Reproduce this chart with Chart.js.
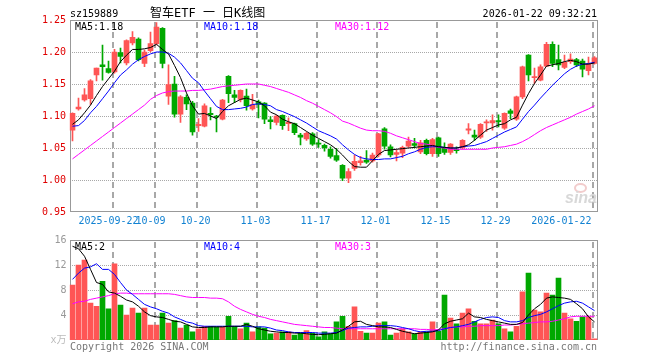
<!DOCTYPE html>
<html>
<head>
<meta charset="utf-8">
<script src="https://cdn.jsdelivr.net/npm/chart.js@4"></script>
<style>
  body { margin: 0; background: #fff; }
  #wrap { position: relative; width: 660px; height: 360px; overflow: hidden; background: #fff; }
  canvas { position: absolute; left: 0; }
  .t { position: absolute; font: 10px/10px "DejaVu Sans Mono", "Noto Sans CJK SC", monospace; white-space: pre; color: #000; }
  #title { position: absolute; left: 150px; top: 7px; font: 12px/12px "DejaVu Sans Mono", "Noto Sans CJK SC", monospace; white-space: pre; }
  #sina { position: absolute; left: 565px; top: 190px; font: italic bold 16px/16px "Liberation Sans", sans-serif; color: #d8d8d8; }
  #eye { position: absolute; left: 574px; top: 183px; width: 9px; height: 6px; border: 2px solid #f2cccc; border-radius: 50%; }
</style>
</head>
<body>
<div id="wrap">
  <canvas id="kChart" width="660" height="232" style="top:0;width:660px;height:232px"></canvas>
  <canvas id="volChart" width="660" height="128" style="top:232px;width:660px;height:128px"></canvas>

  <div class="t" style="left:70px;top:8.5px">sz159889</div>
  <div id="title">智车ETF 一 日K线图</div>
  <div class="t" style="right:63px;top:8.5px">2026-01-22 09:32:21</div>

  <div class="t" style="left:75px;top:21.5px">MA5:1.18</div>
  <div class="t" style="left:204px;top:21.5px;color:#0000ff">MA10:1.18</div>
  <div class="t" style="left:335px;top:21.5px;color:#ff00ff">MA30:1.12</div>

  <div class="t" style="left:75px;top:241.5px">MA5:2</div>
  <div class="t" style="left:204px;top:241.5px;color:#0000ff">MA10:4</div>
  <div class="t" style="left:335px;top:241.5px;color:#ff00ff">MA30:3</div>

  <div id="eye"></div>
  <div id="sina">sina</div>

  <div class="t" style="left:70px;top:341.5px;color:#777">Copyright 2026 SINA.COM</div>
  <div class="t" style="right:63px;top:341.5px;color:#777">http://finance.sina.com.cn</div>
</div>

<script>
// data ------------------------------------------------------------------
const dates = [
  '2025-09-11','2025-09-12','2025-09-15','2025-09-16','2025-09-17','2025-09-18','2025-09-19','2025-09-22','2025-09-23','2025-09-24','2025-09-25','2025-09-26','2025-09-29','2025-09-30',
  '2025-10-09','2025-10-10','2025-10-13','2025-10-14','2025-10-15','2025-10-16','2025-10-17','2025-10-20','2025-10-21','2025-10-22','2025-10-23','2025-10-24','2025-10-27','2025-10-28','2025-10-29','2025-10-30','2025-10-31',
  '2025-11-03','2025-11-04','2025-11-05','2025-11-06','2025-11-07','2025-11-10','2025-11-11','2025-11-12','2025-11-13','2025-11-14','2025-11-17','2025-11-18','2025-11-19','2025-11-20','2025-11-21','2025-11-24','2025-11-25','2025-11-26','2025-11-27','2025-11-28',
  '2025-12-01','2025-12-02','2025-12-03','2025-12-04','2025-12-05','2025-12-08','2025-12-09','2025-12-10','2025-12-11','2025-12-12','2025-12-15','2025-12-16','2025-12-17','2025-12-18','2025-12-19','2025-12-22','2025-12-23','2025-12-24','2025-12-25','2025-12-26','2025-12-29','2025-12-30','2025-12-31',
  '2026-01-05','2026-01-06','2026-01-07','2026-01-08','2026-01-09','2026-01-12','2026-01-13','2026-01-14','2026-01-15','2026-01-16','2026-01-19','2026-01-20','2026-01-21','2026-01-22'
];

const open = [
  1.078,1.111,1.125,1.127,1.164,1.180,1.174,1.169,1.199,1.183,
  1.214,1.220,1.182,1.202,1.213,1.237,1.131,1.150,1.103,1.129,
  1.120,1.085,1.084,1.104,1.100,1.095,1.162,1.133,1.126,1.131,
  1.111,1.122,1.120,1.094,1.090,1.101,1.088,1.088,1.070,1.064,
  1.072,1.057,1.054,1.048,1.038,1.023,1.003,1.018,1.027,1.031,
  1.030,1.039,1.080,1.052,1.040,1.042,1.053,1.057,1.044,1.062,
  1.041,1.066,1.050,1.043,1.048,1.050,1.078,1.070,1.067,1.089,
  1.089,1.093,1.081,1.108,1.095,1.130,1.195,1.160,1.156,1.178,
  1.212,1.188,1.176,1.185,1.188,1.186,1.171,1.182
];
const high = [
  1.105,1.128,1.143,1.157,1.175,1.211,1.186,1.204,1.206,1.219,
  1.232,1.222,1.203,1.231,1.246,1.238,1.180,1.162,1.132,1.133,
  1.123,1.096,1.119,1.113,1.101,1.126,1.163,1.140,1.141,1.142,
  1.134,1.125,1.121,1.099,1.101,1.102,1.097,1.089,1.073,1.075,
  1.074,1.063,1.056,1.052,1.049,1.024,1.018,1.039,1.037,1.046,
  1.042,1.073,1.082,1.055,1.047,1.053,1.067,1.065,1.062,1.064,
  1.065,1.067,1.058,1.057,1.052,1.063,1.088,1.078,1.088,1.094,
  1.102,1.102,1.105,1.111,1.131,1.178,1.196,1.175,1.180,1.215,
  1.216,1.211,1.195,1.197,1.190,1.189,1.192,1.193
];
const low = [
  1.061,1.109,1.123,1.118,1.155,1.156,1.167,1.167,1.183,1.180,
  1.211,1.186,1.177,1.200,1.211,1.175,1.118,1.098,1.090,1.110,
  1.070,1.076,1.083,1.094,1.075,1.094,1.121,1.121,1.122,1.109,
  1.109,1.097,1.088,1.080,1.086,1.079,1.077,1.071,1.055,1.062,
  1.054,1.051,1.045,1.034,1.029,0.999,0.996,1.015,1.023,1.026,
  1.028,1.036,1.048,1.036,1.030,1.035,1.051,1.050,1.041,1.039,
  1.037,1.037,1.040,1.040,1.042,1.048,1.072,1.062,1.065,1.076,
  1.078,1.083,1.079,1.096,1.093,1.127,1.155,1.151,1.155,1.177,
  1.177,1.172,1.174,1.182,1.177,1.161,1.164,1.181
];
const close = [
  1.104,1.114,1.133,1.155,1.175,1.177,1.168,1.200,1.193,1.218,
  1.223,1.188,1.200,1.213,1.239,1.182,1.149,1.103,1.130,1.119,
  1.075,1.087,1.116,1.102,1.098,1.125,1.135,1.129,1.140,1.116,
  1.118,1.118,1.095,1.091,1.100,1.085,1.090,1.074,1.067,1.073,
  1.056,1.056,1.050,1.037,1.031,1.003,1.013,1.029,1.030,1.028,
  1.039,1.072,1.053,1.039,1.043,1.051,1.061,1.054,1.058,1.041,
  1.063,1.041,1.043,1.056,1.046,1.062,1.080,1.067,1.087,1.091,
  1.093,1.091,1.104,1.104,1.130,1.177,1.164,1.161,1.177,1.212,
  1.182,1.180,1.184,1.189,1.180,1.173,1.181,1.191
];

// price moving averages
const ma5 = [
  1.087,1.094,1.105,1.117,1.132,1.146,1.158,1.170,1.185,1.195,
  1.204,1.204,1.205,1.207,1.212,1.204,1.197,1.179,1.160,1.136,
  1.116,1.103,1.104,1.100,1.096,1.107,1.116,1.121,1.126,1.128,
  1.125,1.122,1.116,1.106,1.102,1.095,1.091,1.088,1.082,1.076,
  1.070,1.065,1.060,1.055,1.048,1.039,1.029,1.021,1.020,1.020,
  1.030,1.040,1.046,1.047,1.048,1.049,1.050,1.051,1.052,1.053,
  1.054,1.052,1.051,1.050,1.050,1.052,1.055,1.062,1.070,1.078,
  1.082,1.086,1.088,1.094,1.098,1.117,1.135,1.151,1.164,1.178,
  1.180,1.182,1.185,1.187,1.185,1.181,1.181,1.183
];
const ma10 = [
  1.084,1.085,1.093,1.105,1.115,1.127,1.139,1.152,1.164,1.172,
  1.181,1.188,1.193,1.197,1.200,1.200,1.198,1.192,1.183,1.171,
  1.159,1.152,1.139,1.127,1.115,1.110,1.110,1.111,1.112,1.114,
  1.118,1.119,1.118,1.116,1.110,1.107,1.103,1.099,1.094,1.089,
  1.083,1.077,1.073,1.069,1.064,1.055,1.047,1.040,1.035,1.033,
  1.032,1.032,1.033,1.033,1.035,1.037,1.041,1.044,1.048,1.051,
  1.052,1.052,1.051,1.050,1.050,1.052,1.053,1.054,1.057,1.060,
  1.065,1.070,1.075,1.079,1.083,1.095,1.107,1.117,1.128,1.138,
  1.148,1.157,1.166,1.173,1.178,1.181,1.182,1.184
];
const ma30 = [
  1.033,1.040,1.047,1.054,1.061,1.068,1.075,1.082,1.089,1.096,
  1.103,1.110,1.117,1.126,1.132,1.136,1.138,1.139,1.139,1.139,
  1.140,1.140,1.141,1.142,1.144,1.146,1.147,1.148,1.149,1.150,
  1.150,1.150,1.148,1.146,1.143,1.140,1.137,1.133,1.129,1.124,
  1.120,1.115,1.110,1.105,1.099,1.092,1.089,1.085,1.081,1.078,
  1.077,1.077,1.076,1.073,1.069,1.066,1.063,1.060,1.057,1.056,
  1.054,1.051,1.050,1.048,1.048,1.048,1.048,1.048,1.048,1.048,
  1.050,1.051,1.052,1.054,1.056,1.060,1.065,1.071,1.077,1.082,
  1.086,1.090,1.094,1.098,1.103,1.107,1.111,1.116
];

// volume (万) and its moving averages
const vol = [
  8.8,12.0,12.8,5.9,5.4,9.4,5.0,12.2,5.6,4.0,
  5.1,4.3,5.1,2.4,2.4,4.3,2.7,3.1,1.9,2.4,
  1.3,1.8,2.2,2.2,2.1,2.1,3.8,2.2,1.8,2.7,
  1.3,2.1,1.9,1.0,1.1,1.3,1.3,0.8,1.1,1.5,
  1.1,0.5,1.3,1.0,2.9,3.8,2.2,5.3,1.4,1.1,
  1.1,2.7,2.9,0.8,1.1,1.8,1.3,1.0,1.3,1.3,
  2.9,1.4,7.2,3.5,2.6,4.3,5.0,3.0,2.6,2.6,
  3.2,2.6,1.8,1.3,2.2,7.7,10.7,4.8,4.5,7.5,
  7.2,9.9,4.3,3.4,3.0,3.7,3.7,0.2
];
const vma5 = [
  15.0,14.6,13.4,11.3,9.2,8.9,7.7,7.5,7.0,6.4,
  6.1,5.4,4.5,3.9,3.7,3.6,3.3,3.0,2.9,2.5,
  2.1,2.0,2.0,2.1,2.1,2.1,2.2,2.2,2.2,2.5,
  2.2,1.8,1.6,1.4,1.3,1.2,1.2,1.1,1.1,1.0,
  0.9,0.85,0.9,1.0,1.1,1.6,2.2,2.9,3.0,2.5,
  2.3,2.1,2.1,2.0,1.7,1.4,1.2,1.0,1.1,1.2,
  1.3,1.6,2.6,3.0,3.2,3.4,4.3,3.7,3.6,3.3,
  3.1,2.9,2.7,2.5,2.5,2.8,4.0,5.0,5.7,6.7,
  6.9,6.8,6.7,6.5,5.8,5.0,3.7,2.9
];
const vma10 = [
  9.7,10.7,11.5,11.7,12.2,11.3,11.3,10.5,9.2,8.0,
  7.3,6.5,5.7,5.3,5.0,4.6,4.3,3.7,3.3,2.9,
  2.7,2.3,2.2,2.2,2.2,2.2,2.2,2.2,2.2,2.2,
  2.1,2.1,2.1,1.9,1.6,1.5,1.3,1.2,1.2,1.2,
  1.2,1.1,1.1,1.1,1.2,1.5,1.9,2.0,2.1,2.1,
  2.2,2.3,2.3,2.3,2.2,2.0,1.8,1.5,1.3,1.4,
  1.4,1.5,1.8,2.0,2.1,2.3,2.5,2.9,3.3,3.6,
  3.7,3.6,3.1,2.9,2.9,3.1,3.6,3.9,4.1,4.5,
  5.0,5.5,5.9,6.1,6.2,5.9,5.3,4.7
];
const vma30 = [
  5.8,6.1,6.2,6.5,6.7,6.9,7.1,7.4,7.5,7.5,
  7.4,7.4,7.4,7.4,7.4,7.4,7.4,7.3,7.1,6.9,
  6.8,6.8,6.8,6.7,6.7,6.6,6.1,5.4,4.9,4.5,
  4.1,3.8,3.6,3.3,3.1,2.9,2.7,2.5,2.4,2.3,
  2.2,2.1,2.0,2.0,1.9,1.8,1.8,1.8,1.8,1.8,
  1.8,1.8,1.8,1.8,1.8,1.8,1.8,1.8,1.7,1.7,
  1.6,1.7,1.8,2.0,2.1,2.1,2.2,2.2,2.3,2.3,
  2.3,2.3,2.4,2.4,2.5,2.6,2.7,2.8,2.9,2.9,
  3.0,3.2,3.4,3.7,3.8,3.8,3.8,3.8
];

// x-axis date marks (trailing spaces nudge the first and last labels left like the original)
const tickDates = ['2025-09-22','2025-10-09','2025-10-20','2025-11-03','2025-11-17','2025-12-01','2025-12-15','2025-12-29','2026-01-22'];
const tickText  = ['2025-09-22 ','10-09 ','10-20','11-03','11-17','12-01','12-15','12-29','2026-01-22          '];

// ---------------------------------------------------------------------------
const RED = '#ff5555';
const GREEN = '#00a800';
const GRID = '#a8a8a8';
const MONO = "'DejaVu Sans Mono', 'Noto Sans CJK SC', monospace";

const barColors = close.map((c, i) => c >= open[i] ? RED : GREEN);
const tickIndex = {};
tickDates.forEach((d, k) => { tickIndex[dates.indexOf(d)] = tickText[k]; });
const markIdx = tickDates.map(d => dates.indexOf(d));

// box round the plot area + dotted / dashed grid, drawn as whole pixels
const frame = {
    id: 'frame',
    beforeDatasetsDraw(chart) {
        const a = chart.chartArea;
        const ctx = chart.ctx;
        const xs = chart.scales.x, ys = chart.scales.y;
        const l = Math.round(a.left), r = Math.round(a.right);
        const t = Math.round(a.top), b = Math.round(a.bottom);
        ctx.save();
        ctx.fillStyle = GRID;

        // horizontal dotted lines on the value ticks
        ys.ticks.forEach(tk => {
            if (tk.value <= ys.min + 1e-6 || tk.value >= ys.max - 1e-6) return;
            const py = Math.round(ys.getPixelForValue(tk.value));
            for (let x = l + 2; x < r - 1; x += 2) ctx.fillRect(x, py, 1, 1);
        });

        // vertical dashed lines at the left edge of the marked days
        const half = (xs.getPixelForValue(1) - xs.getPixelForValue(0)) / 2;
        markIdx.forEach(k => {
            const px = Math.round(xs.getPixelForValue(k) - half);
            for (let y = t + 2; y < b - 1; y += 10) {
                ctx.fillRect(px, y, 2, Math.min(6, b - 1 - y));
            }
        });

        // frame
        ctx.fillStyle = '#999';
        ctx.fillRect(l, t, r - l, 1);
        ctx.fillRect(l, b - 1, r - l, 1);
        ctx.fillRect(l, t, 1, b - t);
        ctx.fillRect(r - 1, t, 1, b - t);
        ctx.restore();
    }
};

function maLine(label, data, color) {
    return {
        type: 'line', label: label, data: data,
        borderColor: color, borderWidth: 1,
        pointRadius: 0, pointHoverRadius: 0,
        fill: false, tension: 0, order: 0
    };
}

function xScale(showLabels) {
    return {
        offset: true,
        grid: { display: false, offset: true, drawTicks: false },
        border: { display: false },
        ticks: {
            display: showLabels, autoSkip: false, maxRotation: 0, minRotation: 0,
            padding: 3, labelOffset: -3, color: '#1282d2',
            font: { family: MONO, size: 10 },
            callback: (v, i) => tickIndex[i] || ''
        },
        afterFit: s => { s.height = 20; }
    };
}

// chart of price ------------------------------------------------------------
function chartK() {
    const bodies = dates.map((d, i) => [Math.min(open[i], close[i]), Math.max(open[i], close[i])]);
    const wicks = dates.map((d, i) => [low[i], high[i]]);

    new Chart(document.getElementById('kChart'), {
        type: 'bar',
        data: {
            labels: dates,
            datasets: [
                maLine('MA5', ma5, '#000000'),
                maLine('MA10', ma10, '#0000ff'),
                maLine('MA30', ma30, '#ff00ff'),
                { label: 'body', data: bodies, backgroundColor: barColors, borderWidth: 0,
                  barThickness: 5, minBarLength: 1, grouped: false, order: 1 },
                { label: 'wick', data: wicks, backgroundColor: barColors, borderWidth: 0,
                  barThickness: 1, minBarLength: 1, grouped: false, order: 2 }
            ]
        },
        options: {
            responsive: false, animation: false, devicePixelRatio: 1,
            layout: { padding: { top: 20, right: 62.5, left: 0, bottom: 0 } },
            plugins: { legend: { display: false }, tooltip: { enabled: false } },
            scales: {
                x: xScale(true),
                y: {
                    min: 0.95, max: 1.25,
                    grid: { display: false, drawTicks: false },
                    border: { display: false },
                    ticks: {
                        stepSize: 0.05, padding: 3.5, color: '#e00000',
                        font: { family: MONO, size: 10 },
                        callback: v => v.toFixed(2)
                    },
                    afterFit: s => { s.width = 69.5; }
                }
            }
        },
        plugins: [frame]
    });
}

// chart of volume -----------------------------------------------------------
function chartVol() {
    new Chart(document.getElementById('volChart'), {
        type: 'bar',
        data: {
            labels: dates,
            datasets: [
                maLine('MA5', vma5, '#000000'),
                maLine('MA10', vma10, '#0000ff'),
                maLine('MA30', vma30, '#ff00ff'),
                { label: 'vol', data: vol, backgroundColor: barColors, borderWidth: 0,
                  barThickness: 5, minBarLength: 1, grouped: false, order: 1 }
            ]
        },
        options: {
            responsive: false, animation: false, devicePixelRatio: 1,
            layout: { padding: { top: 8, right: 62.5, left: 0, bottom: 0 } },
            plugins: { legend: { display: false }, tooltip: { enabled: false } },
            scales: {
                x: xScale(false),
                y: {
                    min: 0, max: 16,
                    grid: { display: false, drawTicks: false },
                    border: { display: false },
                    ticks: {
                        stepSize: 4, padding: 3,
                        color: c => c.tick && c.tick.value === 0 ? '#bbb' : '#999',
                        font: { family: MONO, size: 10, lineHeight: 1 },
                        callback: v => v === 0 ? 'x万' : String(v)
                    },
                    afterFit: s => { s.width = 69.5; }
                }
            }
        },
        plugins: [frame]
    });
}

chartK();
chartVol();
</script>
</body>
</html>
